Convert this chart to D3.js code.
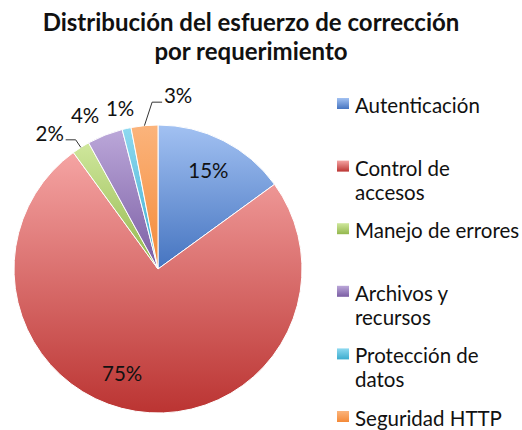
<!DOCTYPE html>
<html>
<head>
<meta charset="utf-8">
<script src="https://cdn.jsdelivr.net/npm/d3@7"></script>
<style>
  body { margin: 0; background: #fff; }
  svg { display: block; }
  text { font-family: Lato, "Open Sans", sans-serif; fill: #111; }
</style>
</head>
<body>
<div id="chart"></div>
<script>
// data
const categories = ["Autenticación", "Control de accesos", "Manejo de errores",
                    "Archivos y recursos", "Protección de datos", "Seguridad HTTP"];
const legendLines = [["Autenticación"], ["Control de", "accesos"], ["Manejo de errores"],
                     ["Archivos y", "recursos"], ["Protección de", "datos"], ["Seguridad HTTP"]];
const values = [15, 75, 2, 4, 1, 3];
const titleLines = ["Distribución del esfuerzo de corrección", "por requerimiento"];

// top / bottom colours of each slice gradient
const colorsTop = ["#a2c1f2", "#f5a4a3", "#cfe79c", "#bba7d9", "#8ed9f0", "#fbb47c"];
const colorsBottom = ["#4574c0", "#bb3432", "#93b74d", "#7a5da3", "#3cacce", "#f48a38"];

const width = 522, height = 430;
const cx = 158, cy = 269, radius = 144;

const svg = d3.select("#chart").append("svg")
    .attr("width", width)
    .attr("height", height);

const defs = svg.append("defs");
colorsTop.forEach(function(c, i) {
    const g = defs.append("linearGradient")
        .attr("id", "grad" + i)
        .attr("x1", 0).attr("y1", 0).attr("x2", 0).attr("y2", 1);
    g.append("stop").attr("offset", "0%").attr("stop-color", c);
    g.append("stop").attr("offset", "100%").attr("stop-color", colorsBottom[i]);
});

// title
svg.append("g").selectAll("text")
    .data(titleLines)
    .enter()
    .append("text")
    .attr("x", 251)
    .attr("y", (d, i) => 31 + i * 29)
    .attr("text-anchor", "middle")
    .attr("font-size", "24px")
    .attr("font-weight", "bold")
    .text(d => d);

const pie = d3.pie().sort(null).value(d => d);
const arcs = pie(values);

const arc = d3.arc().innerRadius(0).outerRadius(radius);

const g = svg.append("g")
    .attr("transform", "translate(" + cx + "," + cy + ")");

g.selectAll("path")
    .data(arcs)
    .enter()
    .append("path")
    .attr("d", arc)
    .attr("fill", (d, i) => "url(#grad" + i + ")")
    .attr("stroke", "#fff")
    .attr("stroke-width", 1);

// label placement: angle nudge (deg), radius, leader line
const place = {
    0: { da: 0, r: 111 },
    1: { da: 10, r: 110 },
    2: { da: -6.1, r: 174, lead: true },
    3: { da: -3.8, r: 170 },
    4: { da: -0.7, r: 165 },
    5: { da: 12, r: 175, lead: true }
};

function polar(angleDeg, r) {
    const a = angleDeg * Math.PI / 180;
    return [Math.sin(a) * r, -Math.cos(a) * r];
}

arcs.forEach(function(d, i) {
    const mid = (d.startAngle + d.endAngle) / 2 * 180 / Math.PI;
    const n = place[i];
    const p = polar(mid + n.da, n.r);
    g.append("text")
        .attr("x", p[0]).attr("y", p[1])
        .attr("text-anchor", "middle")
        .attr("dominant-baseline", "central")
        .attr("font-size", "20.5px")
        .text(d.data + "%");
    if (n.lead) {
        const edge = polar(mid, radius);
        const side = n.da > 0 ? 1 : -1;
        const tx = p[0] - side * 16;
        const ty = p[1] + 7;
        g.append("path")
            .attr("d", d3.line()([edge, [tx - side * 10, ty], [tx, ty]]))
            .attr("fill", "none")
            .attr("stroke", "#333")
            .attr("stroke-width", 1);
    }
});

// legend
const legend = svg.append("g")
    .attr("transform", "translate(337,0)");

const item = legend.selectAll("g")
    .data(legendLines)
    .enter()
    .append("g")
    .attr("transform", (d, i) => "translate(0," + (105 + i * 62.6) + ")");

item.append("rect")
    .attr("x", 0).attr("y", -7)
    .attr("width", 12).attr("height", 11)
    .attr("fill", (d, i) => "url(#grad" + i + ")");

item.selectAll("text")
    .data(d => d)
    .enter()
    .append("text")
    .attr("x", 18)
    .attr("y", (d, j) => j * 24)
    .attr("dominant-baseline", "central")
    .attr("font-size", "20.5px")
    .text(d => d);
</script>
</body>
</html>
